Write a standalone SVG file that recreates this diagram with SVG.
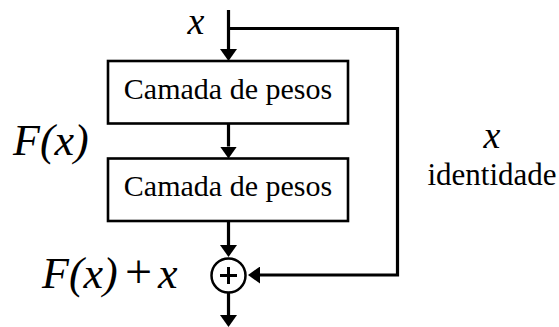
<svg xmlns="http://www.w3.org/2000/svg" width="559" height="327" viewBox="0 0 559 327">
  <style>
    .box { fill: #ffffff; stroke: #000000; stroke-width: 2.6; }
    .wire { fill: none; stroke: #000000; stroke-width: 3.2; }
    .label { font-family: "Liberation Serif", "Times New Roman", serif; fill: #000000; }
    .math { font-family: "Liberation Serif", "Times New Roman", serif; font-style: italic; fill: #000000; }
  </style>
  <defs>
    <marker id="arrow" viewBox="0 0 12 17" markerWidth="12" markerHeight="17" refX="0" refY="8.5" orient="auto" markerUnits="userSpaceOnUse">
      <path d="M0,0 L12,8.5 L0,17 Z" fill="#000000"/>
    </marker>
  </defs>

  <rect width="559" height="327" fill="#ffffff"/>

  <!-- connectors -->
  <g id="connectors">
    <line class="wire" x1="228.5" y1="10" x2="228.5" y2="49" marker-end="url(#arrow)"/>
    <line class="wire" x1="228.5" y1="124" x2="228.5" y2="146.5" marker-end="url(#arrow)"/>
    <line class="wire" x1="228.5" y1="221" x2="228.5" y2="245" marker-end="url(#arrow)"/>
    <line class="wire" x1="228.5" y1="293" x2="228.5" y2="315" marker-end="url(#arrow)"/>
    <path class="wire" d="M228.5,28.5 H397.5 V275 H260" marker-end="url(#arrow)"/>
  </g>

  <!-- weight layers -->
  <g id="layer1">
    <rect class="box" x="108" y="61" width="240" height="62.5"/>
    <text class="label" x="228" y="99" font-size="30" text-anchor="middle">Camada de pesos</text>
  </g>
  <g id="layer2">
    <rect class="box" x="108" y="158.5" width="240" height="62.5"/>
    <text class="label" x="228" y="196" font-size="30" text-anchor="middle">Camada de pesos</text>
  </g>

  <!-- addition node -->
  <g id="sum">
    <circle cx="228.5" cy="275.5" r="17" fill="#ffffff" stroke="#000000" stroke-width="2.5"/>
    <line x1="220" y1="275.5" x2="237" y2="275.5" stroke="#000000" stroke-width="3"/>
    <line x1="228.5" y1="267" x2="228.5" y2="284" stroke="#000000" stroke-width="3"/>
  </g>

  <!-- labels -->
  <g id="input-label">
    <text class="math" x="196" y="34" font-size="38" text-anchor="middle">x</text>
  </g>
  <g id="residual-label">
    <text class="math" x="13" y="155" font-size="44">F(x)</text>
  </g>
  <g id="output-label">
    <text x="42" y="288" font-size="44"><tspan class="math">F(x)</tspan><tspan class="label" x="125" font-size="48">+</tspan><tspan class="math" x="158">x</tspan></text>
  </g>
  <g id="identity-label">
    <text class="math" x="492" y="148" font-size="38" text-anchor="middle">x</text>
    <text class="label" x="492" y="185" font-size="31" text-anchor="middle">identidade</text>
  </g>
</svg>
